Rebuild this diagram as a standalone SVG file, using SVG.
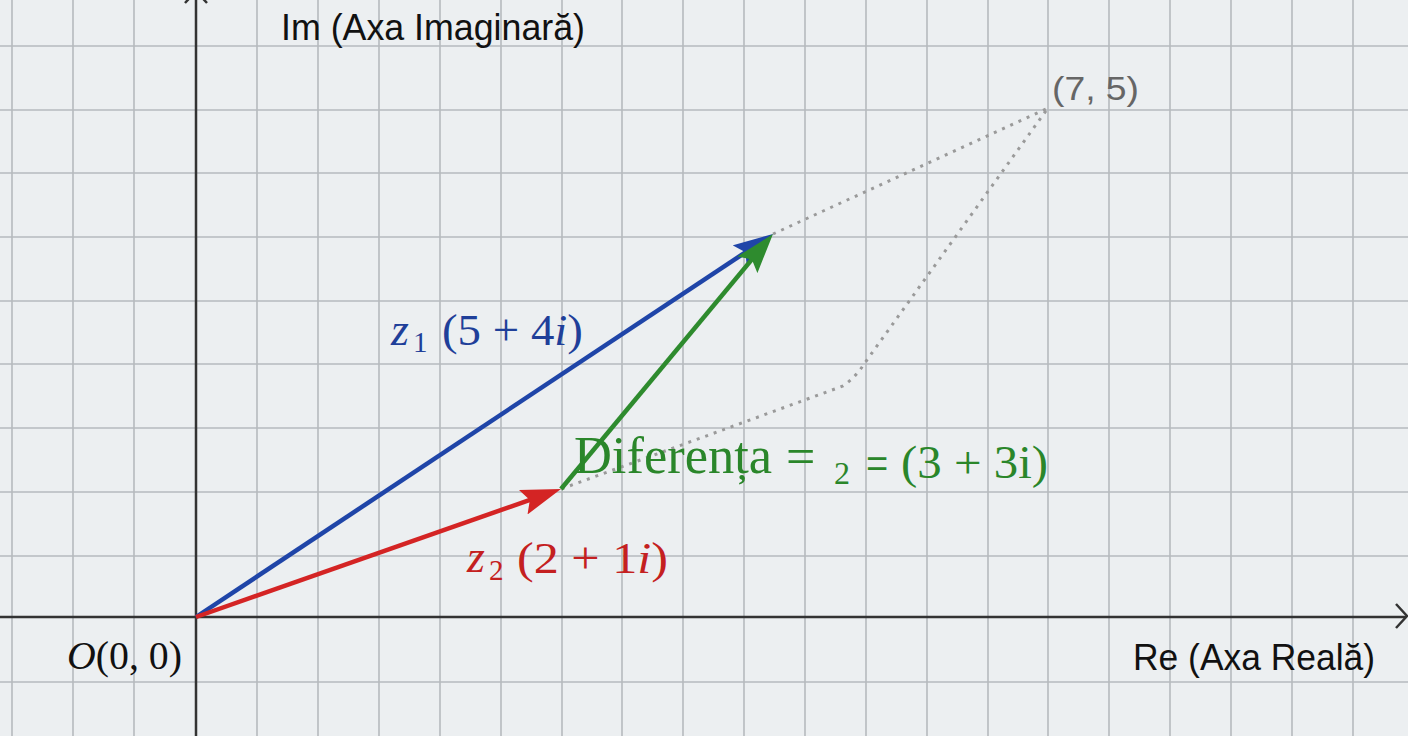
<svg xmlns="http://www.w3.org/2000/svg" width="1408" height="736" viewBox="0 0 1408 736">
<style>
.grid line{stroke:#b6babe;stroke-width:1.6}
.axis{stroke:#333;stroke-width:2.5;fill:none}
.dot{stroke:#9a9a9a;stroke-width:3;stroke-dasharray:3 6;fill:none}
.vec{stroke-width:4.5;fill:none}
.sans{font-family:"Liberation Sans","DejaVu Sans",sans-serif;fill:#111}
.serif{font-family:"Liberation Serif","DejaVu Serif",serif}
</style>
<defs>
<marker id="ahBlue" viewBox="0 0 40 26" refX="20" refY="13" markerWidth="40" markerHeight="26" markerUnits="userSpaceOnUse" orient="auto"><path d="M0,0 L40,13 L0,26 L7,13 Z" fill="#1f45a8"/></marker>
<marker id="ahGreen" viewBox="0 0 40 26" refX="20" refY="13" markerWidth="40" markerHeight="26" markerUnits="userSpaceOnUse" orient="auto"><path d="M0,0 L40,13 L0,26 L7,13 Z" fill="#2e8b2e"/></marker>
<marker id="ahRed" viewBox="0 0 40 26" refX="20" refY="13" markerWidth="40" markerHeight="26" markerUnits="userSpaceOnUse" orient="auto"><path d="M0,0 L40,13 L0,26 L7,13 Z" fill="#d42424"/></marker>
</defs>
<rect width="1408" height="736" fill="#eceff1"/>
<g class="grid">
<line x1="12" y1="0" x2="12" y2="736"/><line x1="73" y1="0" x2="73" y2="736"/><line x1="134" y1="0" x2="134" y2="736"/>
<line x1="257" y1="0" x2="257" y2="736"/><line x1="318" y1="0" x2="318" y2="736"/><line x1="379" y1="0" x2="379" y2="736"/>
<line x1="440" y1="0" x2="440" y2="736"/><line x1="501" y1="0" x2="501" y2="736"/><line x1="562" y1="0" x2="562" y2="736"/>
<line x1="622" y1="0" x2="622" y2="736"/><line x1="683" y1="0" x2="683" y2="736"/><line x1="744" y1="0" x2="744" y2="736"/>
<line x1="805" y1="0" x2="805" y2="736"/><line x1="866" y1="0" x2="866" y2="736"/><line x1="927" y1="0" x2="927" y2="736"/>
<line x1="988" y1="0" x2="988" y2="736"/><line x1="1048" y1="0" x2="1048" y2="736"/><line x1="1109" y1="0" x2="1109" y2="736"/>
<line x1="1170" y1="0" x2="1170" y2="736"/><line x1="1231" y1="0" x2="1231" y2="736"/><line x1="1292" y1="0" x2="1292" y2="736"/>
<line x1="1353" y1="0" x2="1353" y2="736"/>
<line x1="0" y1="46" x2="1408" y2="46"/><line x1="0" y1="110" x2="1408" y2="110"/><line x1="0" y1="173" x2="1408" y2="173"/>
<line x1="0" y1="237" x2="1408" y2="237"/><line x1="0" y1="301" x2="1408" y2="301"/><line x1="0" y1="364" x2="1408" y2="364"/>
<line x1="0" y1="428" x2="1408" y2="428"/><line x1="0" y1="492" x2="1408" y2="492"/><line x1="0" y1="556" x2="1408" y2="556"/>
<line x1="0" y1="682" x2="1408" y2="682"/>
</g>
<g id="axes">
<path class="axis" d="M0,617 L1406,617"/>
<path class="axis" d="M1396,604 L1407,616 L1396,628"/>
<path class="axis" d="M196,736 L196,-8"/>
<path class="axis" d="M185,3 L196,-9 L207,3"/>
</g>
<g id="connectors">
<path class="dot" d="M773,234 L1048,108 L864,364 Q856,377 843,386 L561,489"/>
<line class="vec" x1="196" y1="617" x2="756.3" y2="245.1" stroke="#1f45a8" marker-end="url(#ahBlue)"/>
<line class="vec" x1="196" y1="617" x2="542.1" y2="495.6" stroke="#d42424" marker-end="url(#ahRed)"/>
<line class="vec" x1="561" y1="489" x2="760.2" y2="249.4" stroke="#2e8b2e" marker-end="url(#ahGreen)"/>
</g>
<g id="label-im"><text class="sans" x="281" y="40" font-size="37" textLength="304" lengthAdjust="spacingAndGlyphs">Im (Axa Imaginară)</text></g>
<g id="label-re"><text class="sans" x="1133" y="670" font-size="37" textLength="242" lengthAdjust="spacingAndGlyphs">Re (Axa Reală)</text></g>
<g id="label-75"><text class="sans" x="1052" y="100" font-size="34" style="fill:#666" textLength="87" lengthAdjust="spacingAndGlyphs">(7, 5)</text></g>
<g id="label-origin">
<text class="serif" x="67" y="669" font-size="40" fill="#111" textLength="115" lengthAdjust="spacingAndGlyphs"><tspan font-style="italic">O</tspan>(0, 0)</text>
</g>
<g id="label-z1" fill="#1f3f99">
<text class="serif" x="391" y="345" font-size="46" font-style="italic">z</text>
<text class="serif" x="413" y="352" font-size="29">1</text>
<text class="serif" x="442" y="345" font-size="45" textLength="141" lengthAdjust="spacingAndGlyphs">(5 + 4<tspan font-style="italic">i</tspan>)</text>
</g>
<g id="label-z2" fill="#c42020">
<text class="serif" x="467" y="572" font-size="46" font-style="italic">z</text>
<text class="serif" x="489" y="580" font-size="29">2</text>
<text class="serif" x="517" y="573" font-size="45" textLength="151" lengthAdjust="spacingAndGlyphs">(2 + 1<tspan font-style="italic">i</tspan>)</text>
</g>
<g id="label-diff" fill="#2a862a">
<text class="serif" x="574" y="473" font-size="52" textLength="198" lengthAdjust="spacingAndGlyphs">Diferența</text>
<text class="serif" x="786" y="474" font-size="52">=</text>
<text class="serif" x="834" y="484" font-size="32">2</text>
<text class="sans" x="866" y="477" font-size="38" style="fill:#2a862a">=</text>
<text class="serif" x="901" y="478" font-size="46" textLength="147" lengthAdjust="spacingAndGlyphs">(3 + 3i)</text>
</g>
</svg>
